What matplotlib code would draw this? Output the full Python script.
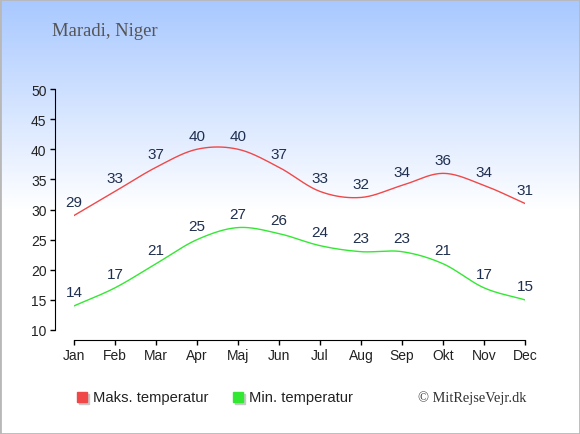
import numpy as np
import matplotlib.pyplot as plt
from matplotlib.patches import Rectangle

months = ['Jan', 'Feb', 'Mar', 'Apr', 'Maj', 'Jun', 'Jul', 'Aug', 'Sep', 'Okt', 'Nov', 'Dec']
max_temp = [29, 33, 37, 40, 40, 37, 33, 32, 34, 36, 34, 31]
min_temp = [14, 17, 21, 25, 27, 26, 24, 23, 23, 21, 17, 15]

red = '#f04848'
green = '#33e833'
label_col = '#1f2f4f'


def smooth(vals, n=20):
    # catmull-rom curve through the points, only for drawing
    p = np.array(vals, dtype=float)
    p = np.concatenate([[2 * p[0] - p[1]], p, [2 * p[-1] - p[-2]]])
    xs, ys = [], []
    for i in range(1, len(p) - 2):
        t = np.linspace(0, 1, n, endpoint=False)
        p0, p1, p2, p3 = p[i - 1], p[i], p[i + 1], p[i + 2]
        y = 0.5 * (2 * p1 + (-p0 + p2) * t + (2 * p0 - 5 * p1 + 4 * p2 - p3) * t ** 2
                   + (-p0 + 3 * p1 - 3 * p2 + p3) * t ** 3)
        xs.append(i - 1 + t)
        ys.append(y)
    xs.append([len(vals) - 1])
    ys.append([vals[-1]])
    return np.concatenate(xs), np.concatenate(ys)


fig = plt.figure(figsize=(5.8, 4.35), dpi=100)

# background gradient
bg = fig.add_axes([0, 0, 1, 1], zorder=-1)
grad = np.ones((435, 1, 3))
top = np.array([168, 200, 255]) / 255
for r in range(210):
    f = r / 210
    grad[r, 0] = top * (1 - f) + f
bg.imshow(grad, aspect='auto', extent=[0, 1, 0, 1])
bg.set_axis_off()
fig.patches.append(Rectangle((0, 0), 1, 1, transform=fig.transFigure, fill=False,
                             edgecolor='#b8b8b8', linewidth=2))

ax = fig.add_axes([74 / 580, 104 / 435, 451 / 580, 241 / 435])
ax.patch.set_alpha(0)
x = np.arange(len(months))
sx, sy = smooth(max_temp)
ax.plot(sx, sy, color=red, lw=1)
sx, sy = smooth(min_temp)
ax.plot(sx, sy, color=green, lw=1)
for i in range(len(months)):
    ax.annotate(str(max_temp[i]), (x[i], max_temp[i]), xytext=(0, 9.5), textcoords='offset points',
                ha='center', va='center', fontsize=11, color=label_col, family='Liberation Sans')
    ax.annotate(str(min_temp[i]), (x[i], min_temp[i]), xytext=(0, 10), textcoords='offset points',
                ha='center', va='center', fontsize=11, color=label_col, family='Liberation Sans')

ax.set_xlim(0, 11)
ax.set_ylim(10, 50)
ax.set_xticks(x)
ax.set_xticklabels(months)
ax.set_yticks(range(10, 51, 5))
for s in ['top', 'right']:
    ax.spines[s].set_visible(False)
ax.spines['bottom'].set_position(('outward', 7.2))
ax.spines['left'].set_position(('outward', 13.7))
ax.tick_params(length=3.6, width=1, labelsize=10, pad=2.5, labelcolor='#222222')
for lab in ax.get_xticklabels() + ax.get_yticklabels():
    lab.set_family('Liberation Sans')

fig.text(52 / 580, 1 - 32 / 435, 'Maradi, Niger', family='Liberation Serif', fontsize=13.4,
         color='#555555', va='center')

# legend
for xp, col, txt in [(77, red, 'Maks. temperatur'), (233, green, 'Min. temperatur')]:
    fig.patches.append(Rectangle(((xp + 1.5) / 580, 1 - 404.5 / 435), 10 / 580, 10 / 435,
                                 transform=fig.transFigure, color='#c8c8c8'))
    fig.patches.append(Rectangle((xp / 580, 1 - 403 / 435), 10 / 580, 10 / 435,
                                 transform=fig.transFigure, color=col))
    fig.text((xp + 16) / 580, 1 - 398 / 435, txt, family='Liberation Sans', fontsize=10.6,
             color='#222222', va='center')
fig.text(526 / 580, 1 - 398 / 435, '© MitRejseVejr.dk', family='Liberation Serif', fontsize=10.4,
         color='#333333', va='center', ha='right')

fig.savefig('out.png', dpi=100)
